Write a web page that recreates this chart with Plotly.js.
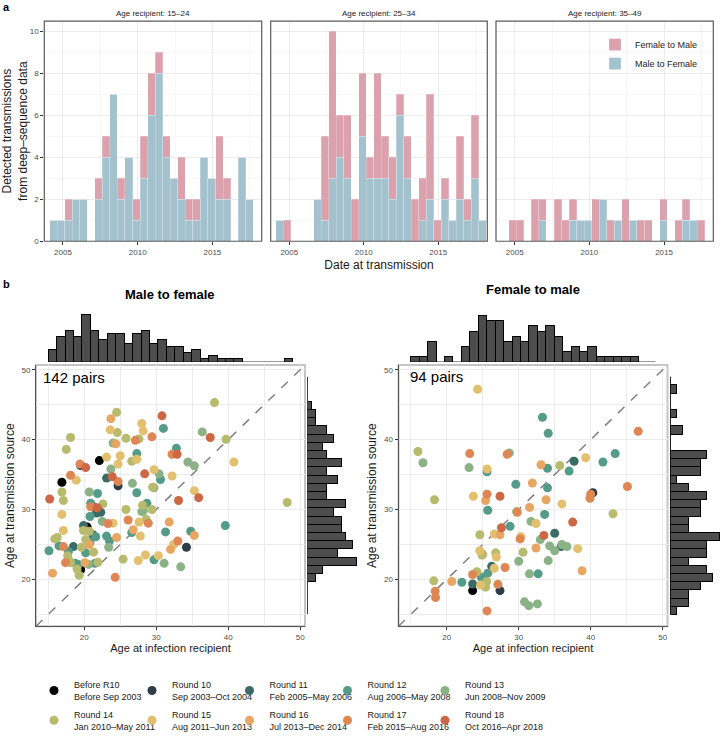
<!DOCTYPE html>
<html><head><meta charset="utf-8">
<script src="https://cdn.plot.ly/plotly-3.0.1.min.js"></script>
<style>html,body{margin:0;padding:0;background:#fff}#chart{width:720px;height:739px}</style>
</head><body><div id="chart"></div>
<script>
// ================= DATA =================
// Panel a: detected transmissions per half-year bin, stacked by direction
const transmissionBinStart = 2004.1;
const transmissionBinWidth = 0.505;
const ageRecipientGroups = ['15–24', '25–34', '35–49'];
const maleToFemale_15_24 = [1,1,1,2,2,0,2,4,7,2,4,1,3,6,8,4,3,2,1,1,4,3,2,2,0,4,2,0];
const femaleToMale_15_24 = [0,0,1,0,0,0,1,1,0,1,0,1,2,2,1,1,0,2,1,1,0,0,3,1,0,0,0,0];
const maleToFemale_25_34 = [1,0,0,0,0,2,1,3,4,3,0,5,3,3,3,2,6,3,0,1,2,0,2,1,2,1,3,1];
const femaleToMale_25_34 = [0,1,0,0,0,0,4,7,2,3,2,3,1,5,2,2,1,2,2,2,5,1,1,0,3,1,3,0];
const maleToFemale_35_49 = [0,0,0,0,0,1,0,0,0,1,1,1,0,2,0,1,0,1,0,0,0,1,0,0,1,1,0,0];
const femaleToMale_35_49 = [0,1,1,0,2,1,0,2,1,1,0,0,2,0,1,0,2,0,1,1,0,1,0,1,1,0,1,0];
const yearTicks = [2005, 2010, 2015];
const countTicks = [0, 2, 4, 6, 8, 10];

// Panel b: marginal histograms (29 bins from age 15 to 49)
const ageBinStart = 15;
const ageBinWidth = 34 / 29;
const mtfRecipientHist = [4,8,10,8,15,10,7,9,9,6,9,10,6,7,5,5,3,4,1,2,1,1,1,0,0,0,0,0,1];
const mtfSourceHist    = [0,0,0,0,2,4,13,8,12,10,9,9,7,10,5,5,8,5,9,5,4,7,5,2,2,1,0,0,0];
const ftmRecipientHist = [1,1,4,0,1,0,3,6,9,8,8,4,5,4,7,6,7,5,2,3,2,3,1,1,1,1,1,0,0];
const ftmSourceHist    = [1,3,3,5,7,6,3,6,6,8,3,3,5,5,6,3,1,5,5,6,0,0,2,0,1,0,0,1,0];
const ageTicks = [20, 30, 40, 50];

// Survey rounds (9 = before R10)
const roundCodes = [9,10,11,12,13,14,15,16,17,18];
const roundNames = [
  'Before R10<br>Before Sep 2003', 'Round 10<br>Sep 2003–Oct 2004', 'Round 11<br>Feb 2005–May 2006',
  'Round 12<br>Aug 2006–May 2008', 'Round 13<br>Jun 2008–Nov 2009', 'Round 14<br>Jan 2010–May 2011',
  'Round 15<br>Aug 2011–Jun 2013', 'Round 16<br>Jul 2013–Dec 2014', 'Round 17<br>Feb 2015–Aug 2016',
  'Round 18<br>Oct 2016–Apr 2018'];
const roundColors = ['#000000','#2C3D49','#3B6B65','#559B8A','#8BB287','#B8BB6D','#E2C06F','#E8A663','#DE8755','#CC6846'];

// Male to female pairs (142)
const mtfRecipientAge = [24.5,23.7,30.8,28.0,31.0,23.6,28.2,24.6,18.1,25.8,27.1,27.6,29.4,36.4,37.5,39.7,24.0,24.4,17.5,27.3,
  32.8,32.2,32.9,23.1,22.1,19.4,19.5,20.2,24.7,26.6,27.3,23.7,34.4,35.3,40.8,18.1,18.9,16.9,23.1,23.9,
  24.7,24.7,28.4,29.7,30.4,32.2,26.7,27.3,29.5,29.7,16.9,20.7,21.85,15.2,17.1,35.3,35.9,33.1,48.2,16.9,
  20.9,21.4,21.8,20.9,22.3,22.6,20.8,25.8,28.1,28.0,28.7,29.4,23.3,24.0,22.5,26.1,27.6,28.9,31.8,19.9,
  20.4,19.9,17.1,20.7,21.2,15.9,16.25,23.1,24.5,23.5,26.8,26.6,27.8,31.3,34.8,35.3,39.6,33.0,32.4,32.0,
  34.2,15.1,16.5,17.1,18.5,17.8,19.6,20.2,23.4,20.2,20.8,20.7,17.7,17.8,17.4,18.1,18.75,19.2,20.1,20.6,
  21.9,19.0,19.5,19.3,15.6,24.3,25.4,27.5,29.7,30.3,31.1,33.4,38.1,21.5,21.3,21.6,28.5,28.6,28.2,30.6,
  25.0,21.7];
const mtfSourceAge = [43.9,43.0,43.4,42.3,41.6,41.4,41.25,41.0,40.3,40.2,39.9,40.1,40.4,41.1,40.3,40.05,39.5,39.4,38.6,38.0,
  38.75,37.9,37.9,37.5,37.0,36.5,36.3,36.0,36.5,36.9,37.2,35.8,36.8,36.25,36.8,34.9,34.2,33.9,34.5,34.7,
  33.4,34.0,35.1,35.7,35.1,34.8,33.75,32.4,33.2,33.1,32.5,32.5,32.3,31.5,31.3,32.7,31.7,31.3,31.0,29.3,
  30.4,30.3,30.25,30.9,29.6,30.8,29.0,30.0,30.6,29.7,30.9,30.0,28.0,28.05,28.3,28.5,28.2,28.05,28.2,27.7,
  27.5,27.0,27.0,26.9,26.4,25.8,26.0,26.2,26.0,25.5,27.1,26.7,26.2,26.8,26.9,26.3,27.7,25.5,25.0,24.3,
  24.6,24.1,24.8,24.7,24.7,24.0,24.6,23.8,24.6,25.7,25.3,25.0,23.4,22.95,22.4,22.4,22.3,22.15,22.4,22.15,
  22.45,21.5,21.4,20.6,20.9,20.3,22.9,22.7,22.8,23.4,22.3,21.8,45.3,22.3,23.9,26.1,23.5,28.6,29.8,34.3,
  37.7,29.5];
const mtfRound = [14,16,18,15,12,15,15,14,14,14,17,14,17,13,18,14,13,16,14,12,
  12,17,18,15,9,17,10,18,15,14,15,13,13,13,15,17,15,9,11,18,
  10,17,18,15,13,15,13,12,14,13,14,13,12,18,14,15,18,18,14,15,
  17,9,18,12,11,14,12,14,14,13,12,14,17,15,13,17,15,17,16,11,
  9,14,15,14,11,14,14,12,16,12,16,12,15,12,12,16,12,17,15,16,
  10,12,12,17,11,12,14,12,13,14,12,16,14,14,17,14,12,12,16,13,
  14,14,9,14,16,17,14,15,12,15,13,13,14,12,14,12,15,14,13,12,
  15,11];

// Female to male pairs (94)
const ftmRecipientAge = [33.3,34.1,46.6,16.0,16.7,23.2,28.7,28.4,23.1,25.6,25.6,33.1,34.0,35.7,37.7,37.0,39.3,41.7,43.4,18.3,
  23.7,25.6,25.4,27.4,25.7,29.6,31.9,34.0,33.8,36.0,40.3,39.9,45.1,29.8,29.7,31.5,33.6,43.1,37.5,31.7,
  32.4,28.8,27.6,27.4,26.6,24.6,33.5,35.0,30.3,30.2,33.0,34.3,36.0,36.7,35.9,38.2,35.0,32.4,30.6,24.6,
  25.0,26.8,26.9,30.0,34.1,26.25,26.6,28.1,24.2,23.6,25.7,24.8,25.55,25.4,18.2,20.7,22.1,23.6,23.6,27.1,
  27.4,18.4,18.45,25.6,31.5,32.7,38.8,31.4,32.6,24.3,30.8,24.9,40.0,24.7];
const ftmSourceAge = [43.2,40.9,41.2,38.3,36.7,38.0,38.1,37.9,36.0,35.8,35.4,36.4,35.9,36.3,36.9,35.5,37.4,36.8,38.0,31.4,
  31.9,32.2,31.3,31.9,29.9,33.6,33.8,33.1,31.4,30.8,32.4,31.6,33.3,29.6,29.7,30.3,29.3,29.4,28.2,28.3,
  28.0,27.6,27.4,26.4,26.5,26.4,26.3,26.6,26.1,25.8,25.7,24.8,25.0,24.7,24.7,24.4,24.1,24.5,23.9,24.1,
  23.6,23.8,23.2,22.6,22.7,21.9,21.6,21.7,21.1,20.7,20.9,20.3,19.7,18.9,19.8,19.7,19.6,19.35,18.4,19.3,
  18.4,18.3,17.4,15.5,20.8,20.8,21.25,16.25,16.5,47.2,16.8,23.5,32.2,19.2];
const ftmRound = [12,12,17,14,13,17,13,17,13,15,12,16,12,14,11,12,15,12,12,14,
  15,17,16,18,12,12,16,12,16,15,10,17,17,17,14,16,12,14,18,13,
  15,12,18,16,15,14,18,11,15,17,13,13,13,13,11,15,13,16,14,15,
  14,14,15,13,13,11,15,17,14,17,12,12,14,14,14,16,12,11,9,17,
  10,17,17,17,13,12,16,13,13,15,13,14,17,15];

// ================= LAYOUT HELPERS =================
const W = 720, H = 739;
const hx = v => v / W;          // pixel x -> paper
const vy = v => 1 - v / H;      // pixel y -> paper
const FONT = 'Liberation Sans, Arial, Helvetica, sans-serif';
const PINK = '#DBA1AD', BLUE = '#A4C2CE';
const GRID = '#EBEBEB';

const traces = [];

// ---- Panel a ----
const panelData = [[maleToFemale_15_24, femaleToMale_15_24],[maleToFemale_25_34, femaleToMale_25_34],[maleToFemale_35_49, femaleToMale_35_49]];
panelData.forEach((g, i) => {
  const xa = i === 0 ? 'x' : 'x' + (i + 1);
  const ya = i === 0 ? 'y' : 'y' + (i + 1);
  const centers = g[0].map((_, k) => transmissionBinStart + (k + 0.5) * transmissionBinWidth);
  traces.push({type:'bar', x:centers, y:g[0], width:transmissionBinWidth, xaxis:xa, yaxis:ya,
    name:'Male to Female', legend:'legend3', showlegend:i === 2,
    marker:{color:BLUE, line:{color:'rgba(255,255,255,0.45)', width:0.5}}, hoverinfo:'skip'});
  traces.push({type:'bar', x:centers, y:g[1], width:transmissionBinWidth, xaxis:xa, yaxis:ya,
    name:'Female to Male', legend:'legend3', showlegend:i === 2,
    marker:{color:PINK, line:{color:'rgba(255,255,255,0.45)', width:0.5}}, hoverinfo:'skip'});
});

// ---- Panel b marginal histograms ----
function histTrace(counts, xa, ya, horizontal) {
  const centers = counts.map((_, k) => ageBinStart + (k + 0.5) * ageBinWidth);
  const t = {type:'bar', width:ageBinWidth, xaxis:xa, yaxis:ya, showlegend:false, hoverinfo:'skip',
    marker:{color:'#4D4D4D', line:{color:'#000', width:1}}};
  if (horizontal) { t.orientation = 'h'; t.y = centers; t.x = counts; }
  else { t.x = centers; t.y = counts; }
  return t;
}
function baseLine(xa, ya, horizontal) {
  const ends = [ageBinStart, ageBinStart + mtfRecipientHist.length * ageBinWidth];
  return {type:'scatter', mode:'lines', xaxis:xa, yaxis:ya, showlegend:false, hoverinfo:'skip',
    x: horizontal ? [0, 0] : ends, y: horizontal ? ends : [0, 0], line:{color:'#000', width:1}};
}
traces.push(baseLine('x6','y6',false), histTrace(mtfRecipientHist,'x6','y6',false));
traces.push(baseLine('x7','y7',false), histTrace(ftmRecipientHist,'x7','y7',false));
traces.push(baseLine('x8','y8',true),  histTrace(mtfSourceHist,'x8','y8',true));
traces.push(baseLine('x9','y9',true),  histTrace(ftmSourceHist,'x9','y9',true));

// ---- Panel b scatter ----
const AGE_RANGE = [13.3, 50.67];
[['x4','y4'],['x5','y5']].forEach(([xa, ya]) => {
  traces.push({type:'scatter', mode:'lines', x:AGE_RANGE, y:AGE_RANGE, xaxis:xa, yaxis:ya, showlegend:false,
    hoverinfo:'skip', line:{color:'#808080', width:1.5, dash:'dash'}});
});
roundCodes.forEach((code, r) => {
  const legendId = 'legend' + (r + 4);
  const li = mtfRound.map((v, i) => v === code ? i : -1).filter(i => i >= 0);
  traces.push({type:'scatter', mode:'markers', xaxis:'x4', yaxis:'y4', name:roundNames[r],
    legend:legendId, legendgroup:'r' + code, showlegend:true,
    x: li.map(i => mtfRecipientAge[i]), y: li.map(i => mtfSourceAge[i]),
    marker:{color:roundColors[r], size:9}, hoverinfo:'skip'});
  const ri = ftmRound.map((v, i) => v === code ? i : -1).filter(i => i >= 0);
  traces.push({type:'scatter', mode:'markers', xaxis:'x5', yaxis:'y5', name:roundNames[r],
    legend:legendId, legendgroup:'r' + code, showlegend:false,
    x: ri.map(i => ftmRecipientAge[i]), y: ri.map(i => ftmSourceAge[i]),
    marker:{color:roundColors[r], size:9}, hoverinfo:'skip'});
});

// ---- Axes ----
const tickFont = {size:8, color:'#4D4D4D', family:FONT};
const topY = [vy(248.3), vy(21.7)];
function topX(dom, anchor, title) {
  const a = {domain:dom, anchor, range:[2003.75, 2018.3], tickmode:'array', tickvals:yearTicks,
    ticks:'outside', ticklen:3, tickcolor:'#333', tickfont:tickFont, showgrid:true, gridcolor:GRID, gridwidth:1,
    minor:{tickmode:'array', tickvals:[2002.5, 2007.5, 2012.5, 2017.5], showgrid:true, gridcolor:'#F2F2F2', gridwidth:0.6},
    zeroline:false, showline:false, fixedrange:true};
  if (title) a.title = {text:title, font:{size:12, family:FONT, color:'#1a1a1a'}, standoff:4};
  return a;
}
function topYAxis(anchor, labels) {
  const a = {domain:topY, anchor, range:[0, 10.48], tickmode:'array', tickvals:countTicks,
    showticklabels:labels, ticks: labels ? 'outside' : '', ticklen:3, tickcolor:'#333', tickfont:tickFont,
    showgrid:true, gridcolor:GRID, gridwidth:1,
    minor:{tickmode:'array', tickvals:[1,3,5,7,9], showgrid:true, gridcolor:'#F2F2F2', gridwidth:0.6},
    zeroline:false, showline:false, fixedrange:true};
  if (labels) a.title = {text:'Detected transmissions<br>from deep–sequence data', font:{size:12, family:FONT, color:'#1a1a1a'}, standoff:3};
  return a;
}
const scY = [vy(644.6), vy(375.7)];
function scAxis(dom, anchor, title, isY) {
  return {domain:dom, anchor, range:AGE_RANGE, tickmode:'array', tickvals:ageTicks,
    ticks:'outside', ticklen:3, tickcolor:'#333', tickfont:tickFont, showgrid:true, gridcolor:GRID, gridwidth:1,
    minor:{tickmode:'array', tickvals:[15, 25, 35, 45], showgrid:true, gridcolor:GRID, gridwidth:1},
    zeroline:false, showline:true, linecolor:'#555', linewidth:1, mirror:false, fixedrange:true,
    title:{text:title, font:{size:isY ? 12 : 11, family:FONT, color:'#1a1a1a'}, standoff: isY ? 4 : 3}};
}
const hidden = (dom, anchor, range) => ({domain:dom, anchor, range, visible:false, fixedrange:true});

const annotations = [
  {text:'<b>a</b>', x:hx(1), y:vy(7), xref:'paper', yref:'paper', xanchor:'left', yanchor:'middle', showarrow:false, font:{size:11, family:FONT, color:'#000'}},
  {text:'<b>b</b>', x:hx(1), y:vy(292), xref:'paper', yref:'paper', xanchor:'left', yanchor:'middle', showarrow:false, font:{size:11, family:FONT, color:'#000'}},
  {text:'<b>Male to female</b>', x:hx(170), y:vy(303), xref:'paper', yref:'paper', xanchor:'center', yanchor:'middle', showarrow:false, font:{size:13, family:FONT, color:'#000'}},
  {text:'<b>Female to male</b>', x:hx(533), y:vy(298), xref:'paper', yref:'paper', xanchor:'center', yanchor:'middle', showarrow:false, font:{size:13, family:FONT, color:'#000'}},
  {text:mtfRound.length + ' pairs', x:hx(41), y:vy(389), xref:'paper', yref:'paper', xanchor:'left', yanchor:'middle', showarrow:false, font:{size:15, family:FONT, color:'#000'}},
  {text:ftmRound.length + ' pairs', x:hx(408), y:vy(388), xref:'paper', yref:'paper', xanchor:'left', yanchor:'middle', showarrow:false, font:{size:15, family:FONT, color:'#000'}}
];
ageRecipientGroups.forEach((g, i) => {
  annotations.push({text:'Age recipient: ' + g, xref:(i === 0 ? 'x' : 'x' + (i + 1)) + ' domain', x:0.5, yref:'paper', y:vy(14),
    xanchor:'center', yanchor:'middle', showarrow:false, font:{size:8, family:FONT, color:'#1a1a1a'}});
});

const shapes = [];
['', '2', '3'].forEach(s => shapes.push({type:'rect', xref:'x' + s + ' domain', yref:'y' + s + ' domain', x0:0, x1:1, y0:0, y1:1, line:{color:'#5A5A5A', width:1.2}, layer:'above'}));
['4', '5'].forEach(s => shapes.push({type:'rect', xref:'x' + s + ' domain', yref:'y' + s + ' domain', x0:0, x1:1, y0:0, y1:1, line:{color:'#C4C4C4', width:2}, layer:'below'}));

const layout = {
  width:W, height:H, margin:{l:0, r:0, t:0, b:0}, paper_bgcolor:'#fff', plot_bgcolor:'#fff',
  font:{family:FONT, color:'#1a1a1a'}, barmode:'stack', bargap:0, hovermode:false, showlegend:true,
  xaxis: topX([hx(44.3), hx(261.7)], 'y'),
  xaxis2: topX([hx(270.7), hx(487.3)], 'y2', 'Date at transmission'),
  xaxis3: topX([hx(496), hx(713.3)], 'y3'),
  yaxis: topYAxis('x', true), yaxis2: topYAxis('x2', false), yaxis3: topYAxis('x3', false),
  xaxis4: scAxis([hx(36), hx(305)], 'y4', 'Age at infection recipient', false),
  yaxis4: scAxis(scY, 'x4', 'Age at transmission source', true),
  xaxis5: scAxis([hx(398.5), hx(667.5)], 'y5', 'Age at infection recipient', false),
  yaxis5: scAxis(scY, 'x5', 'Age at transmission source', true),
  xaxis6: hidden([hx(36), hx(305)], 'y6', AGE_RANGE), yaxis6: hidden([vy(372.7), vy(320)], 'x6', [0, 16.2]),
  xaxis7: hidden([hx(398.5), hx(667.5)], 'y7', AGE_RANGE), yaxis7: hidden([vy(372.7), vy(320)], 'x7', [0, 9.88]),
  xaxis8: hidden([hx(307.5), hx(360.2)], 'y8', [0, 14.05]), yaxis8: hidden(scY, 'x8', AGE_RANGE),
  xaxis9: hidden([hx(670.3), hx(720)], 'y9', [0, 8.15]), yaxis9: hidden(scY, 'x9', AGE_RANGE),
  legend3: {x:hx(595), y:vy(31), xanchor:'left', yanchor:'top', traceorder:'reversed', bgcolor:'rgba(0,0,0,0)',
    font:{size:9, family:FONT, color:'#1a1a1a'}, tracegroupgap:0},
  annotations, shapes
};
// one legend box per round entry: 5 columns x 2 rows
const legendColumnPx = [34, 132, 229.5, 327.5, 425];
const legendRowPx = [692, 723];
roundCodes.forEach((code, r) => {
  layout['legend' + (r + 4)] = {x:hx(legendColumnPx[r % 5]), y:vy(legendRowPx[Math.floor(r / 5)]),
    xanchor:'left', yanchor:'top', bgcolor:'rgba(0,0,0,0)', itemwidth:30, valign:'middle',
    font:{size:9, family:FONT, color:'#1a1a1a'}};
});

Plotly.newPlot('chart', traces, layout, {displayModeBar:false, staticPlot:true});
</script>
</body></html>
